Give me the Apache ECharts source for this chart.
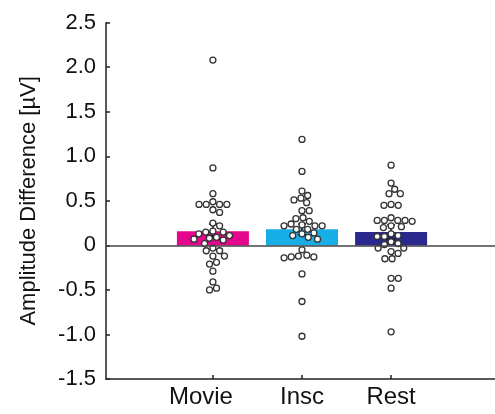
<!DOCTYPE html>
<html><head><meta charset="utf-8">
<script src="https://cdn.jsdelivr.net/npm/echarts@6/dist/echarts.min.js"></script>
<style>html,body{margin:0;padding:0;background:#fff;overflow:hidden}#c{width:495px;height:414px}</style>
</head><body><div id="c"></div>
<script>
const categories = ['Movie', 'Insc', 'Rest'];
const barColors = ['#E4068C', '#17AEE8', '#2A2A8E'];
const means = [0.16, 0.18, 0.15];
const sems = [0.08, 0.06, 0.08];
const yTicks = [-1.5, -1.0, -0.5, 0, 0.5, 1.0, 1.5, 2.0, 2.5];

const moviePts = [2.08, 0.87, 0.58, 0.49, 0.46, 0.46, 0.46, 0.46, 0.40, 0.37, 0.25, 0.22, 0.16, 0.15, 0.15, 0.13, 0.11, 0.08, 0.09, 0.07, 0.06, 0.02, -0.03, -0.06, -0.06, -0.12, -0.12, -0.19, -0.21, -0.29, -0.41, -0.50, -0.48];
const inscPts = [1.19, 0.83, 0.61, 0.56, 0.53, 0.51, 0.48, 0.39, 0.39, 0.31, 0.30, 0.27, 0.24, 0.23, 0.22, 0.22, 0.22, 0.18, 0.18, 0.14, 0.13, 0.11, 0.09, 0.07, -0.05, -0.11, -0.13, -0.13, -0.14, -0.12, -0.32, -0.63, -1.02];
const restPts = [0.90, 0.70, 0.63, 0.58, 0.58, 0.45, 0.45, 0.46, 0.31, 0.27, 0.28, 0.28, 0.28, 0.28, 0.21, 0.22, 0.20, 0.13, 0.11, 0.10, 0.10, 0.04, 0.02, 0.01, -0.03, -0.03, -0.07, -0.09, -0.15, -0.15, -0.37, -0.37, -0.48, -0.97];
const groups = [moviePts, inscPts, restPts];

// simple beeswarm layout computed in pixel units
const PX_X = 89, PX_Y = 89.1, D = 7.2;
function swarm(vals) {
  const order = vals.map((v, i) => i).sort((a, b) => vals[b] - vals[a]);
  const placed = [];
  const out = new Array(vals.length);
  for (const i of order) {
    const y = vals[i] * PX_Y;
    const near = placed.filter(p => Math.abs(p.y - y) < D);
    const cands = [0];
    near.forEach(p => { const dx = Math.sqrt(D * D - (p.y - y) ** 2); cands.push(p.x + dx, p.x - dx); });
    cands.sort((a, b) => Math.abs(a) - Math.abs(b));
    let x = 0;
    for (const c of cands) {
      if (near.every(p => (p.x - c) ** 2 + (p.y - y) ** 2 >= D * D - 0.01)) { x = c; break; }
    }
    placed.push({ x, y });
    out[i] = x / PX_X;
  }
  return out;
}
const scatterData = [];
groups.forEach((vals, g) => {
  const off = swarm(vals);
  vals.forEach((v, i) => scatterData.push([g + 1 + off[i], v]));
});

const chart = echarts.init(document.getElementById('c'));
const FONT = 'Liberation Sans';
chart.setOption({
  backgroundColor: '#ffffff',
  animation: false,
  grid: { left: 106, width: 392, top: 22.7, bottom: 35, outerBoundsMode: 'none', containLabel: false },
  xAxis: {
    type: 'value', min: -0.2, max: 4.2,
    splitLine: { show: false },
    axisLine: { show: true, onZero: false, lineStyle: { color: '#222', width: 1.5 } },
    axisTick: { show: true, inside: true, length: 4, customValues: [1, 2, 3], lineStyle: { color: '#222', width: 1.5 } },
    axisLabel: {
      customValues: [1, 2, 3],
      formatter: v => '{' + (v === 1 ? 'm' : 'n') + '|' + categories[v - 1] + '}',
      margin: 6,
      rich: {
        m: { fontFamily: FONT, fontSize: 24, color: '#111', padding: [0, 24, 0, 0] },
        n: { fontFamily: FONT, fontSize: 24, color: '#111' }
      }
    }
  },
  yAxis: {
    type: 'value', min: yTicks[0], max: yTicks[yTicks.length - 1], interval: 0.5,
    splitLine: { show: false },
    axisLine: { show: true, onZero: false, lineStyle: { color: '#222', width: 1.5 } },
    axisTick: { show: true, inside: true, length: 4, lineStyle: { color: '#222', width: 1.5 } },
    axisLabel: { fontFamily: FONT, fontSize: 22, color: '#111', margin: 10,
      formatter: v => v === 0 ? '0' : v.toFixed(1) },
    name: 'Amplitude Difference [µV]', nameLocation: 'middle', nameGap: 66,
    nameTextStyle: { fontFamily: FONT, fontSize: 22, color: '#111' }
  },
  series: [
    {
      type: 'bar', barWidth: 72, z: 2,
      data: means.map((m, i) => ({ value: [i + 1, m], itemStyle: { color: barColors[i] } })),
      markLine: { silent: true, symbol: 'none', label: { show: false },
        lineStyle: { color: '#444', width: 1.5, type: 'solid' }, data: [{ yAxis: 0 }] }
    },
    {
      type: 'custom', z: 3,
      data: means.map((m, i) => [i + 1, m - sems[i], m + sems[i]]),
      renderItem: (params, api) => {
        const lo = api.coord([api.value(0), api.value(1)]);
        const hi = api.coord([api.value(0), api.value(2)]);
        const w = 4;
        const st = { stroke: '#111', lineWidth: 1.5 };
        return { type: 'group', children: [
          { type: 'line', shape: { x1: lo[0], y1: lo[1], x2: hi[0], y2: hi[1] }, style: st },
          { type: 'line', shape: { x1: hi[0] - w, y1: hi[1], x2: hi[0] + w, y2: hi[1] }, style: st },
          { type: 'line', shape: { x1: lo[0] - w, y1: lo[1], x2: lo[0] + w, y2: lo[1] }, style: st }
        ]};
      }
    },
    {
      type: 'scatter', z: 4, symbol: 'circle', symbolSize: 6,
      itemStyle: { color: '#ffffff', borderColor: '#333', borderWidth: 1.3, opacity: 1 },
      data: scatterData
    }
  ]
});
</script></body></html>
